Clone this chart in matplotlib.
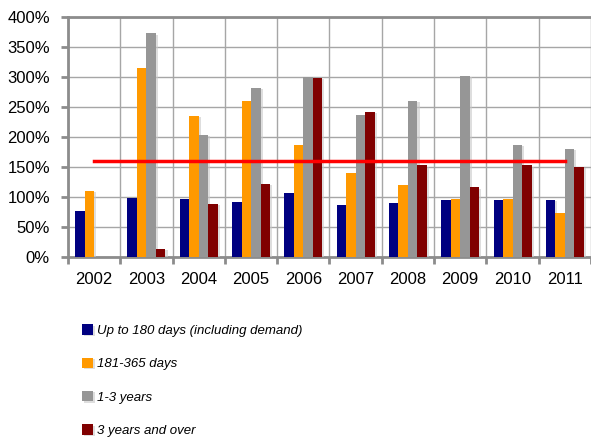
import matplotlib
matplotlib.use("Agg")
import matplotlib.pyplot as plt
import matplotlib.patheffects as pe
import numpy as np

plt.rcParams['font.family'] = ['Liberation Sans', 'DejaVu Sans']

years = ['2002', '2003', '2004', '2005', '2006', '2007', '2008', '2009', '2010', '2011']
up_to_180 = [77, 99, 97, 92, 107, 87, 90, 95, 95, 95]
d181_365 = [110, 315, 235, 260, 187, 140, 120, 97, 97, 73]
y1_3 = [0, 373, 204, 282, 300, 237, 260, 302, 187, 180]
y3_over = [0, 14, 89, 122, 299, 242, 153, 116, 153, 150]
target = 160

series = [
    ('Up to 180 days (including demand)', up_to_180, '#000080'),
    ('181-365 days', d181_365, '#FF9900'),
    ('1-3 years', y1_3, '#969696'),
    ('3 years and over', y3_over, '#800000'),
]

fig = plt.figure(figsize=(5.91, 4.37), dpi=100)
ax = fig.add_axes([0.115, 0.412, 0.885, 0.549])

x = np.arange(len(years))
w = 0.182
shadow = [pe.SimplePatchShadow(offset=(1.5, -1), shadow_rgbFace='#c8c8c8', alpha=0.6), pe.Normal()]
for i, (label, vals, color) in enumerate(series):
    bars = ax.bar(x + (i - 1.5) * w, vals, w, color=color, label=label, zorder=3)
    for b in bars:
        b.set_path_effects(shadow)

ax.plot([x[0], x[-1]], [target, target], color='#FF0000', lw=2.5, zorder=4)

ax.set_xlim(-0.5, len(years) - 0.5)
ax.set_ylim(0, 400)
ax.set_yticks(np.arange(0, 401, 50))
ax.set_yticklabels([f'{v}%' for v in range(0, 401, 50)])
ax.set_xticks(x)
ax.set_xticklabels(years)
ax.set_xticks(np.arange(-0.5, len(years)), minor=True)

ax.grid(True, axis='y', color='#a6a6a6', lw=1, zorder=0)
ax.grid(True, axis='x', which='minor', color='#a6a6a6', lw=1, zorder=0)
ax.tick_params(axis='x', which='major', length=0, pad=11, labelsize=12)
ax.tick_params(axis='x', which='minor', length=5, width=2, color='#8c8c8c')
ax.tick_params(axis='y', length=5, width=2, color='#8c8c8c', labelsize=12, pad=8)

for side in ['left', 'bottom', 'top']:
    ax.spines[side].set_color('#8c8c8c')
    ax.spines[side].set_linewidth(2)
ax.spines['right'].set_visible(False)

fig.legend(loc='upper left', bbox_to_anchor=(0.13, 0.27), frameon=False,
           prop={'style': 'italic', 'size': 9.5}, handlelength=0.85, handleheight=0.85,
           handletextpad=0.25, labelspacing=1.55, borderaxespad=0)

fig.savefig('out.png', dpi=100)
